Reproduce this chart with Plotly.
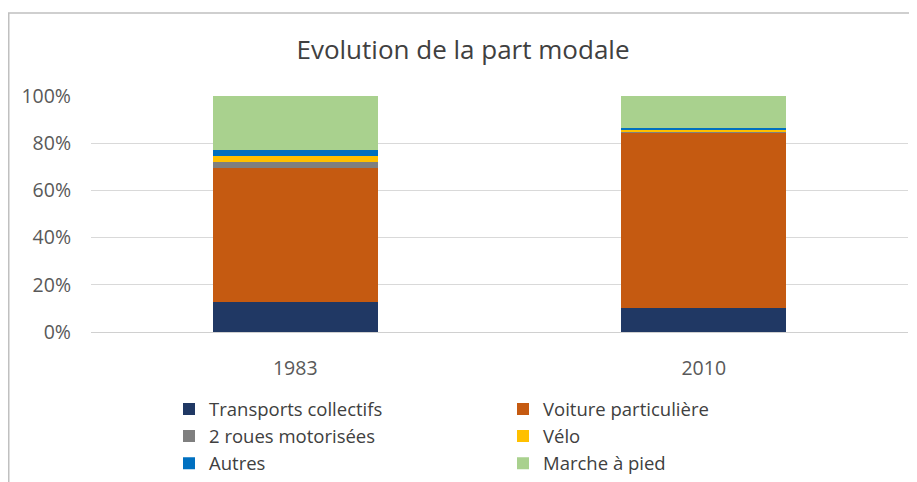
import plotly.graph_objects as go

years = ["1983", "2010"]
series_names = ["Transports collectifs", "Voiture particulière", "2 roues motorisées",
                "Vélo", "Autres", "Marche à pied"]
transports_collectifs = [0.127, 0.100]
voiture_particuliere = [0.568, 0.744]
deux_roues = [0.025, 0.003]
velo = [0.027, 0.011]
autres = [0.024, 0.006]
marche = [0.229, 0.136]
y_tick_vals = [0, 0.2, 0.4, 0.6, 0.8, 1.0]
y_tick_text = ["0%", "20%", "40%", "60%", "80%", "100%"]

values = [transports_collectifs, voiture_particuliere, deux_roues, velo, autres, marche]
colors = ["#203864", "#C55A11", "#7F7F7F", "#FFC000", "#0070C0", "#A9D18E"]

FONT = "Open Sans"
fig = go.Figure()
for name, vals, col in zip(series_names, values, colors):
    fig.add_trace(go.Bar(x=years, y=vals, name=name, marker=dict(color=col, line=dict(width=0))))

W, H = 917, 482
OFF = 8  # page body margin offset
L, R, T, B = 91 - OFF, W - (908 - OFF), 96 - OFF, H - (332 - OFF)
pw, ph = W - L - R, H - T - B

def px_x(p):  # figure pixel -> paper
    return (p - L) / pw

def px_y(p):
    return (H - B - p) / ph

fig.update_layout(
    width=W, height=H,
    margin=dict(l=L, r=R, t=T, b=B, autoexpand=False),
    paper_bgcolor="white", plot_bgcolor="white",
    barmode="stack", bargap=0.596,
    font=dict(family=FONT, color="#595959"),
    title=dict(text="Evolution de la part modale", x=(463 - OFF) / W, xanchor="center",
               y=1 - (50 - OFF) / H, yanchor="middle",
               font=dict(size=26, color="#404040", family=FONT)),
    xaxis=dict(type="category", showgrid=False, showline=True, linecolor="#d0d0d0",
               linewidth=1, ticks="", tickfont=dict(size=19.5, color="#595959"),
               ticklabelstandoff=19),
    yaxis=dict(range=[0, 1], tickvals=y_tick_vals, ticktext=y_tick_text,
               showgrid=True, gridcolor="#d9d9d9", gridwidth=1, zeroline=False,
               showline=False, ticks="", tickfont=dict(size=19.5, color="#595959"),
               ticklabelstandoff=19),
    legend=dict(orientation="h", traceorder="normal", x=px_x(161), xanchor="left",
                y=px_y(409 - OFF - 18.5), yanchor="top", entrywidth=289,
                font=dict(size=18.5, color="#404040", family=FONT),
                itemwidth=30, bgcolor="rgba(0,0,0,0)"),
    showlegend=True,
)

fig.add_shape(type="rect", xref="paper", yref="paper",
              x0=px_x(0.75), x1=px_x(W + 20), y0=px_y(H + 20), y1=px_y(13 - OFF),
              line=dict(color="#c0c0c0", width=1.5), fillcolor="rgba(0,0,0,0)", layer="below")

fig.write_html("out.html")
